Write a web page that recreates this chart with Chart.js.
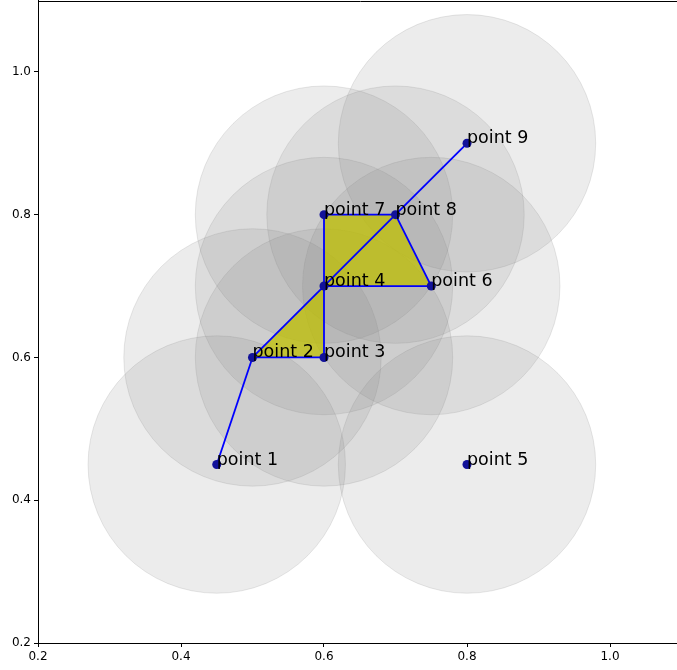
<!DOCTYPE html>
<html><head><meta charset="utf-8">
<script src="https://cdn.jsdelivr.net/npm/chart.js@4.4.1/dist/chart.umd.min.js"></script>
<style>html,body{margin:0;padding:0;overflow:hidden;background:#fff}#wrap{width:677px;height:670px;overflow:hidden;position:relative}#c{position:absolute;left:0;top:-4px}</style>
</head><body><div id="wrap"><canvas id="c" width="686" height="674" style="width:686px;height:674px"></canvas></div>
<script>
const pointLabels = ['point 1','point 2','point 3','point 4','point 5','point 6','point 7','point 8','point 9'];
const pointX = [0.45, 0.5, 0.6, 0.6, 0.8, 0.75, 0.6, 0.7, 0.8];
const pointY = [0.45, 0.6, 0.6, 0.7, 0.45, 0.7, 0.8, 0.8, 0.9];
const ballRadius = 0.18;
const edges = [[0,1],[1,2],[1,3],[2,3],[3,5],[3,6],[3,7],[6,7],[7,5],[7,8]];
const triangles = [[1,2,3],[3,6,7],[3,7,5]];
const xTicks = [0.2, 0.4, 0.6, 0.8, 1.0];
const yTicks = [0.2, 0.4, 0.6, 0.8, 1.0];
const xRange = [0.2, 1.1];
const yRange = [0.2, 1.1];

const pts = pointX.map((x, i) => ({x: x, y: pointY[i]}));
const datasets = [];

datasets.push({
  type: 'scatter', label: 'points', data: pts, order: 0,
  pointRadius: 4.5, pointBackgroundColor: '#12129a', pointBorderWidth: 0
});
edges.forEach((e, k) => datasets.push({
  type: 'line', label: 'edge' + k, data: [pts[e[0]], pts[e[1]]], order: 1,
  borderColor: '#0000ff', borderWidth: 1.8, pointRadius: 0, fill: false, tension: 0
}));
triangles.forEach((t, k) => datasets.push({
  type: 'line', label: 'tri' + k, data: [pts[t[0]], pts[t[1]], pts[t[2]], pts[t[0]]], order: 2,
  borderWidth: 0, borderColor: 'rgba(0,0,0,0)', pointRadius: 0, fill: 'shape',
  backgroundColor: 'rgba(191,191,0,0.75)', tension: 0
}));
datasets.push({
  type: 'scatter', label: 'balls', data: pts, order: 3,
  pointRadius: (ctx) => {
    const s = ctx.chart.scales.x;
    return Math.abs(s.getPixelForValue(xRange[0] + ballRadius) - s.getPixelForValue(xRange[0]));
  },
  pointBackgroundColor: 'rgba(128,128,128,0.15)',
  pointBorderColor: 'rgba(128,128,128,0.18)', pointBorderWidth: 1
});

const labelPlugin = {
  id: 'labelPlugin',
  afterDatasetsDraw(chart) {
    const c = chart.ctx, sx = chart.scales.x, sy = chart.scales.y;
    c.save();
    c.font = '17.5px "DejaVu Sans"';
    c.fillStyle = '#000';
    c.textAlign = 'left';
    c.textBaseline = 'alphabetic';
    pointLabels.forEach((t, i) => c.fillText(t, sx.getPixelForValue(pointX[i]), sy.getPixelForValue(pointY[i])));
    c.restore();
  },
  afterDraw(chart) {
    const a = chart.chartArea, c = chart.ctx;
    c.save();
    c.strokeStyle = '#000'; c.lineWidth = 1;
    c.beginPath();
    c.moveTo(Math.round(a.left) + 0.5, Math.round(a.top) + 0.5);
    c.lineTo(Math.round(a.right) + 0.5, Math.round(a.top) + 0.5);
    c.lineTo(Math.round(a.right) + 0.5, Math.round(a.bottom) + 0.5);
    c.stroke();
    c.restore();
  }
};

function axisCfg(range, ticks, isX) {
  return {
    type: 'linear', min: range[0], max: range[1],
    afterBuildTicks: s => { s.ticks = ticks.map(v => ({value: v})); },
    afterFit: s => {
      s.paddingTop = 0; s.paddingBottom = 0; s.paddingLeft = 0; s.paddingRight = 0;
      if (isX) s.height = 27; else s.width = 38;
    },
    ticks: {callback: v => Number(v).toFixed(1), color: '#000', font: {size: 12, family: 'DejaVu Sans'}, padding: 3, maxRotation: 0, autoSkip: false},
    grid: {drawOnChartArea: false, drawTicks: true, tickLength: 4, color: '#000', tickColor: '#000'},
    border: {display: true, color: '#000', width: 1}
  };
}

new Chart(document.getElementById('c'), {
  type: 'scatter',
  data: {datasets: datasets},
  options: {
    responsive: false, animation: false, events: [],
    layout: {padding: {left: 0, right: 2.5, top: 0.5, bottom: 0}},
    plugins: {legend: {display: false}, tooltip: {enabled: false}},
    scales: {x: axisCfg(xRange, xTicks, true), y: axisCfg(yRange, yTicks, false)}
  },
  plugins: [labelPlugin]
});
</script></body></html>
